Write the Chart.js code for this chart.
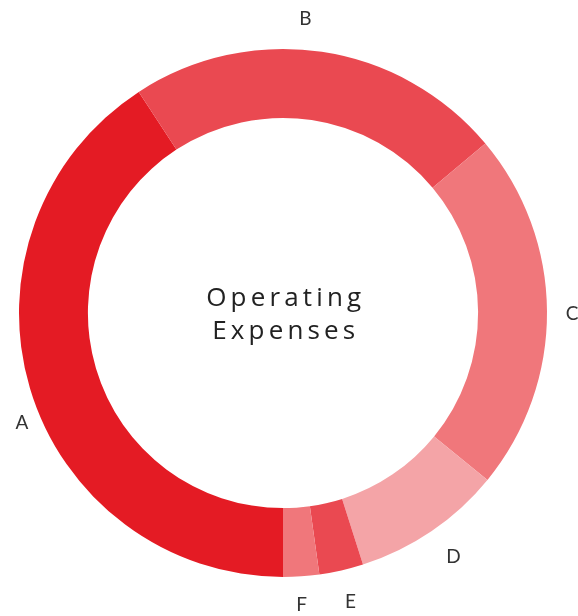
<!DOCTYPE html>
<html>
<head>
<meta charset="utf-8">
<script src="https://cdn.jsdelivr.net/npm/chart.js@4/dist/chart.umd.min.js"></script>
<style>
  html, body { margin: 0; padding: 0; background: #fff; }
  #wrap { width: 578px; height: 616px; position: relative; }
</style>
</head>
<body>
<div id="wrap"><canvas id="c" width="578" height="616"></canvas></div>
<script>
const categories = ['A', 'B', 'C', 'D', 'E', 'F'];
const values = [40.8, 23.1, 22.0, 9.2, 2.7, 2.2];
const centerTitle = ['Operating', 'Expenses'];

const sliceColors = ['#E41B24', '#EA4951', '#F0777B', '#F4A4A7', '#EA4951', '#F0777B'];
// label placement tweaks relative to each slice: angular nudge (deg) and gap beyond the ring (px)
const labelNudgeDeg = [-6.1, -4.1, 0.4, -0.8, -0.4, 0.3];
const labelGap = [19, 31, 25, 33, 32, 28];

const outsideLabels = {
  id: 'outsideLabels',
  afterDatasetsDraw(chart) {
    const ctx = chart.ctx;
    const meta = chart.getDatasetMeta(0);
    ctx.save();
    ctx.font = '400 19px Lato, "Open Sans", sans-serif';
    ctx.fillStyle = '#333333';
    ctx.textAlign = 'center';
    ctx.textBaseline = 'alphabetic';
    meta.data.forEach((arc, i) => {
      const p = arc.getProps(['x', 'y', 'startAngle', 'endAngle', 'outerRadius'], true);
      const mid = (p.startAngle + p.endAngle) / 2 + labelNudgeDeg[i] * Math.PI / 180;
      const r = p.outerRadius + labelGap[i];
      ctx.fillText(chart.data.labels[i], p.x + Math.cos(mid) * r, p.y + Math.sin(mid) * r + 6.5);
    });
    // center text
    const a0 = meta.data[0];
    ctx.font = '400 26px "Open Sans", Lato, sans-serif';
    ctx.fillStyle = '#222222';
    const targetW = [155, 143];
    centerTitle.forEach((line, k) => {
      try { ctx.letterSpacing = '0px'; } catch (e) {}
      const w = ctx.measureText(line).width;
      const ls = Math.max(0, (targetW[k] - w) / (line.length - 1));
      try { ctx.letterSpacing = ls + 'px'; } catch (e) {}
      ctx.fillText(line, a0.x + 0.7 + ls / 2, a0.y + (k === 0 ? -7 : 26));
    });
    ctx.restore();
  }
};

new Chart(document.getElementById('c'), {
  type: 'doughnut',
  data: {
    labels: categories,
    datasets: [{
      data: values,
      backgroundColor: sliceColors,
      borderWidth: 0,
      hoverOffset: 0
    }]
  },
  options: {
    responsive: false,
    animation: false,
    rotation: 180,
    cutout: '73.9%',
    layout: { padding: { left: 19, right: 31, top: 49, bottom: 39 } },
    plugins: {
      legend: { display: false },
      tooltip: { enabled: false }
    }
  },
  plugins: [outsideLabels]
});
</script>
</body>
</html>
